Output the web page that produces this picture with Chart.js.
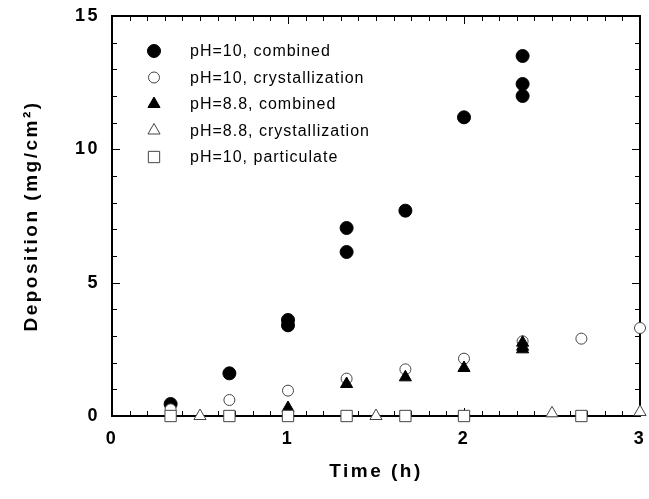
<!DOCTYPE html>
<html>
<head>
<meta charset="utf-8">
<script src="https://cdn.jsdelivr.net/npm/chart.js@4.4.1/dist/chart.umd.min.js"></script>
<style>
  html, body { margin: 0; padding: 0; background: #fff; }
</style>
</head>
<body>
<canvas id="myChart" width="649" height="499"></canvas>
<script>
// series
const combined10X = [0.333, 0.667, 1, 1, 1.333, 1.333, 1.667, 2, 2.333, 2.333, 2.333];
const combined10Y = [0.45, 1.6, 3.6, 3.4, 7.05, 6.15, 7.7, 11.2, 13.5, 12.45, 12.0];

const cryst10X = [0.333, 0.667, 1, 1.333, 1.667, 2, 2.333, 2.667, 3];
const cryst10Y = [0.25, 0.6, 0.95, 1.4, 1.75, 2.15, 2.8, 2.9, 3.3];

const combined88X = [1, 1.333, 1.667, 2, 2.333, 2.333, 2.333];
const combined88Y = [0.3, 1.2, 1.45, 1.8, 2.75, 2.6, 2.5];

const cryst88X = [0.5, 1.5, 2.5, 3];
const cryst88Y = [0, 0, 0.1, 0.15];

const particulateX = [0.333, 0.667, 1, 1.333, 1.667, 2, 2.667];
const particulateY = [0, 0, 0, 0, 0, 0, 0];

const legendLabels = ['pH=10, combined', 'pH=10, crystallization', 'pH=8.8, combined', 'pH=8.8, crystallization', 'pH=10, particulate'];
const xTicks = [0, 1, 2, 3];
const yTicks = [0, 5, 10, 15];

function toPoints(xs, ys) {
    return xs.map((x, i) => ({ x: x, y: ys[i] }))
}

function makeSet(label, xs, ys, style, radius, filled, order) {
    return {
        label: label,
        data: toPoints(xs, ys),
        pointStyle: style,
        pointRadius: radius,
        pointHoverRadius: radius,
        pointBackgroundColor: filled ? '#000' : '#fff',
        pointBorderColor: filled ? '#000' : '#444',
        pointBorderWidth: 1,
        showLine: false,
        clip: false,
        order: order
    }
}

// frame + inward ticks on all four sides
const framePlugin = {
    id: 'frame',
    beforeDatasetsDraw(chart) {
        const ctx = chart.ctx
        const a = chart.chartArea
        const xs = chart.scales.x
        const ys = chart.scales.y
        ctx.save()
        ctx.strokeStyle = '#000'
        ctx.lineWidth = 1
        ctx.beginPath()
        for (let i = 0; i <= 30; i++) {
            const px = Math.round(xs.getPixelForValue(i / 10)) + 0.5
            const len = i % 10 == 0 ? 8 : 5
            ctx.moveTo(px, a.bottom); ctx.lineTo(px, a.bottom - len)
            ctx.moveTo(px, a.top); ctx.lineTo(px, a.top + len)
        }
        for (let j = 0; j <= 15; j++) {
            const py = Math.round(ys.getPixelForValue(j)) + 0.5
            const len = j % 5 == 0 ? 8 : 5
            ctx.moveTo(a.left, py); ctx.lineTo(a.left + len, py)
            ctx.moveTo(a.right, py); ctx.lineTo(a.right - len, py)
        }
        ctx.stroke()
        ctx.lineWidth = 2
        ctx.strokeRect(a.left, a.top, a.right - a.left, a.bottom - a.top)
        ctx.restore()
    }
}

// legend drawn inside the plot, top left
const insideLegend = {
    id: 'insideLegend',
    afterDraw(chart) {
        const ctx = chart.ctx
        const a = chart.chartArea
        ctx.save()
        ctx.letterSpacing = '1px'
        ctx.font = '16px "Liberation Sans", Arial, sans-serif'
        ctx.textBaseline = 'middle'
        ctx.textAlign = 'left'
        chart.data.datasets.forEach((ds, i) => {
            const y = a.top + 35 + i * 26.5
            const x = a.left + 42
            ctx.fillStyle = ds.pointBackgroundColor
            ctx.strokeStyle = ds.pointBorderColor
            ctx.lineWidth = ds.pointBorderWidth
            Chart.helpers.drawPoint(ctx, { pointStyle: ds.pointStyle, radius: ds.pointRadius, borderWidth: ds.pointBorderWidth, rotation: 0 }, x, y)
            ctx.fillStyle = '#000'
            ctx.fillText(ds.label, a.left + 78, y + 1)
        })
        ctx.restore()
    }
}

const spacing = {
    id: 'spacing',
    beforeDraw(chart) { chart.ctx.letterSpacing = '2.5px' },
    afterDraw(chart) { chart.ctx.letterSpacing = '0px' }
}

function noEdgePadding(s) {
    s.paddingTop = 0
    s.paddingBottom = 0
    s.paddingLeft = 0
    s.paddingRight = 0
}

const tickFont = { family: '"Liberation Sans", Arial, sans-serif', size: 18, weight: 'bold' }
const titleFont = { family: '"Liberation Sans", Arial, sans-serif', size: 19, weight: 'bold' }

var ctx = document.getElementById('myChart').getContext('2d');
var chart = new Chart(ctx, {
    type: 'scatter',
    data: {
        datasets: [
            makeSet(legendLabels[0], combined10X, combined10Y, 'circle', 6.5, true, 5),
            makeSet(legendLabels[1], cryst10X, cryst10Y, 'circle', 5.5, false, 4),
            makeSet(legendLabels[2], combined88X, combined88Y, 'triangle', 7, true, 3),
            makeSet(legendLabels[3], cryst88X, cryst88Y, 'triangle', 7, false, 2),
            makeSet(legendLabels[4], particulateX, particulateY, 'rect', 8, false, 1)
        ]
    },
    options: {
        responsive: false,
        animation: false,
        layout: { padding: { top: 16, right: 3, left: 0, bottom: 0 } },
        plugins: {
            legend: { display: false },
            tooltip: { enabled: false }
        },
        scales: {
            x: {
                type: 'linear',
                min: 0,
                max: 3,
                afterBuildTicks: s => { s.ticks = xTicks.map(v => ({ value: v })) },
                afterFit: s => { s.height = 83; noEdgePadding(s) },
                grid: { display: false, drawTicks: false },
                border: { display: false },
                ticks: { color: '#000', font: tickFont, padding: 12, maxRotation: 0 },
                title: { display: true, text: 'Time (h)', color: '#000', font: titleFont, padding: { top: 0, bottom: 16 } }
            },
            y: {
                type: 'linear',
                min: 0,
                max: 15,
                afterBuildTicks: s => { s.ticks = yTicks.map(v => ({ value: v })) },
                afterFit: s => { s.width = 112; noEdgePadding(s) },
                grid: { display: false, drawTicks: false },
                border: { display: false },
                ticks: { color: '#000', font: tickFont, padding: 12 },
                title: { display: true, text: 'Deposition (mg/cm²)', color: '#000', font: titleFont, padding: { top: 20, bottom: 0 } }
            }
        }
    },
    plugins: [spacing, framePlugin, insideLegend]
});
</script>
</body>
</html>
